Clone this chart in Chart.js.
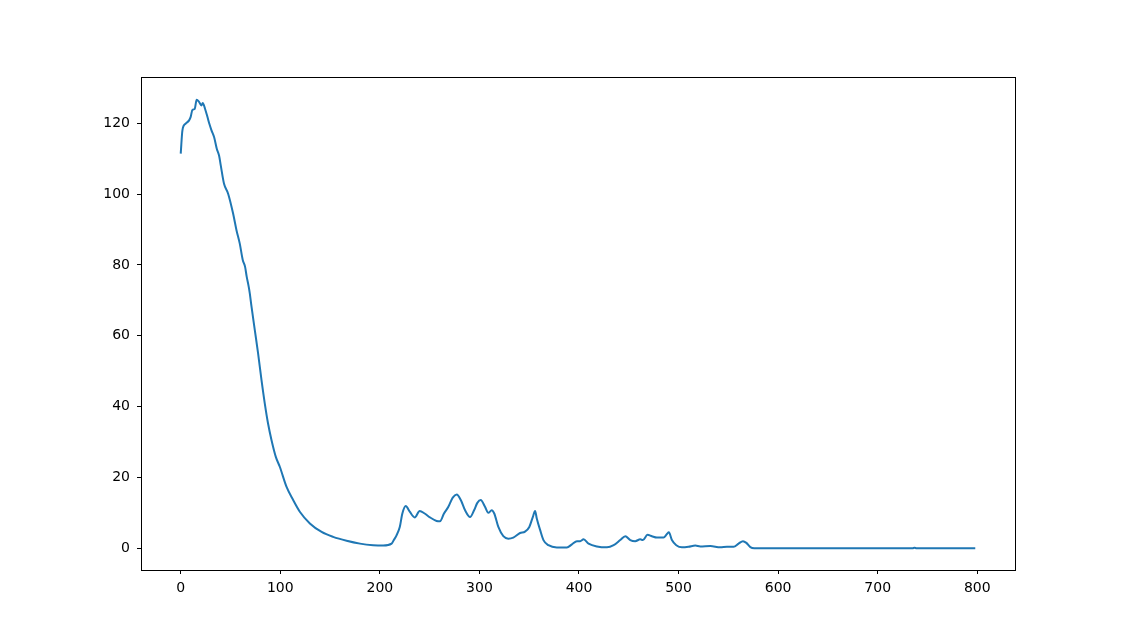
<!DOCTYPE html>
<html>
<head>
<meta charset="utf-8">
<script src="https://cdn.jsdelivr.net/npm/chart.js@4/dist/chart.umd.min.js"></script>
<style>
    body { margin: 0; background: #fff; }
    canvas { display: block; }
</style>
</head>
<body>
<canvas id="chart" width="1128" height="641"></canvas>
<script>
// Values
const xValues = [
    0, 1.7, 5, 8.4, 10, 11.8, 14, 16, 18.4, 20.8, 22.1, 24.4, 26.8, 28.9, 30.9,
    33.5, 36.2, 38.5, 40.2, 43.5, 47.6, 52.6, 56, 59.3, 62.3, 64.6, 66.3, 68.3, 69.4,
    71.1, 74.4, 77.7, 81.1, 84.4, 87.7, 91.2, 95.5, 99.5, 106.3, 112.9, 119.6, 129.7,
    141.5, 153.1, 166.6, 180, 193.3, 203.4, 211.8, 214, 216.5, 220, 222.6, 226, 230, 235,
    240, 245, 250.3, 257, 260.4, 264.4, 268.8, 273.2, 277.2, 281.3, 285.6, 290.6,
    294.6, 297.9, 301.3, 305.6, 308.9, 312.3, 314.9, 319, 324, 329, 334, 340.8,
    345.8, 350.1, 353.6, 355.9, 357.6, 361, 364.3, 369.3, 377.7, 387.8, 392.9,
    397.9, 401.2, 404.6, 409.6, 418, 428.1, 434.8, 441.4, 446.5, 451.5, 456.5,
    461.5, 464.2, 468.8, 473.2, 478.2, 484.9, 488.3, 490.3, 493.3, 497.7, 503.4,
    510, 516.8, 521.8, 531.9, 541.9, 548.6, 555.3, 560.3, 564.7, 568.1, 572.1,
    576.1, 650, 735, 737, 739, 798
];
const yValues = [
    111.4, 118, 119.9, 120.8, 121.8, 123.8, 124, 126.6, 126, 125, 125.7, 124.1, 121.8, 119.7, 118,
    116.1, 112.8, 110.9, 108.1, 102.9, 100.1, 94.5, 89.8, 86, 81.4, 79.5, 76.6, 73.8, 71.9,
    68.2, 61.6, 55, 47.5, 40.9, 35.2, 30.5, 25.8, 23, 17.3, 13.6, 10.3, 7,
    4.6, 3.2, 2.1, 1.3, 0.85, 0.75, 1.3, 2.3, 3.5, 6, 9.8, 11.9, 10.3, 8.7,
    10.5, 9.8, 8.7, 7.7, 7.6, 9.8, 11.7, 14.3, 15.2, 13.6, 10.7, 8.8,
    10.7, 12.8, 13.6, 11.7, 10, 10.7, 9.8, 6, 3.4, 2.7, 3, 4.3,
    4.7, 6, 8.8, 10.5, 8.4, 5.1, 2.3, 0.85, 0.2, 0.2, 1.1,
    2, 2, 2.5, 1.3, 0.5, 0.25, 0.85, 2.3, 3.4, 2.3, 2,
    2.5, 2.3, 3.8, 3.4, 3, 3, 4, 4.5, 2.3, 0.85, 0.25,
    0.4, 0.75, 0.5, 0.6, 0.25, 0.4, 0.4, 1.3, 2, 1.5, 0.3,
    0, 0, 0, 0.15, 0, 0
];
const xTicks = [0, 100, 200, 300, 400, 500, 600, 700, 800];
const yTicks = [0, 20, 40, 60, 80, 100, 120];

const points = xValues.map((x, i) => ({ x: x, y: yValues[i] }));

// full box round the plot area, like matplotlib's spines
const boxPlugin = {
    id: 'box',
    afterDraw(chart) {
        const { ctx, chartArea } = chart;
        ctx.save();
        ctx.strokeStyle = '#000';
        ctx.lineWidth = 1;
        ctx.strokeRect(chartArea.left + 0.5, chartArea.top + 0.5,
            chartArea.right - chartArea.left, chartArea.bottom - chartArea.top);
        ctx.restore();
    }
};

const font = { family: 'DejaVu Sans', size: 14 };

new Chart(document.getElementById('chart'), {
    type: 'line',
    data: {
        datasets: [{
            data: points,
            borderColor: '#1f77b4',
            borderWidth: 2,
            pointRadius: 0,
            cubicInterpolationMode: 'monotone',
            fill: false
        }]
    },
    options: {
        responsive: false,
        animation: false,
        layout: { padding: { top: 77, right: 113, left: 0, bottom: 0 } },
        plugins: { legend: { display: false }, tooltip: { enabled: false } },
        scales: {
            x: {
                type: 'linear',
                min: -39.9,
                max: 837.9,
                afterBuildTicks: s => { s.ticks = xTicks.map(v => ({ value: v })); },
                afterFit: s => { s.height = 71; },
                grid: { drawOnChartArea: false, drawTicks: true, tickLength: 4, tickColor: '#000' },
                border: { display: false },
                ticks: { color: '#000', font: font, padding: 6, maxRotation: 0 }
            },
            y: {
                type: 'linear',
                min: -6.15,
                max: 133.05,
                afterBuildTicks: s => { s.ticks = yTicks.map(v => ({ value: v })); },
                afterFit: s => { s.width = 141; },
                grid: { drawOnChartArea: false, drawTicks: true, tickLength: 4, tickColor: '#000' },
                border: { display: false },
                ticks: { color: '#000', font: font, padding: 7 }
            }
        }
    },
    plugins: [boxPlugin]
});
</script>
</body>
</html>
